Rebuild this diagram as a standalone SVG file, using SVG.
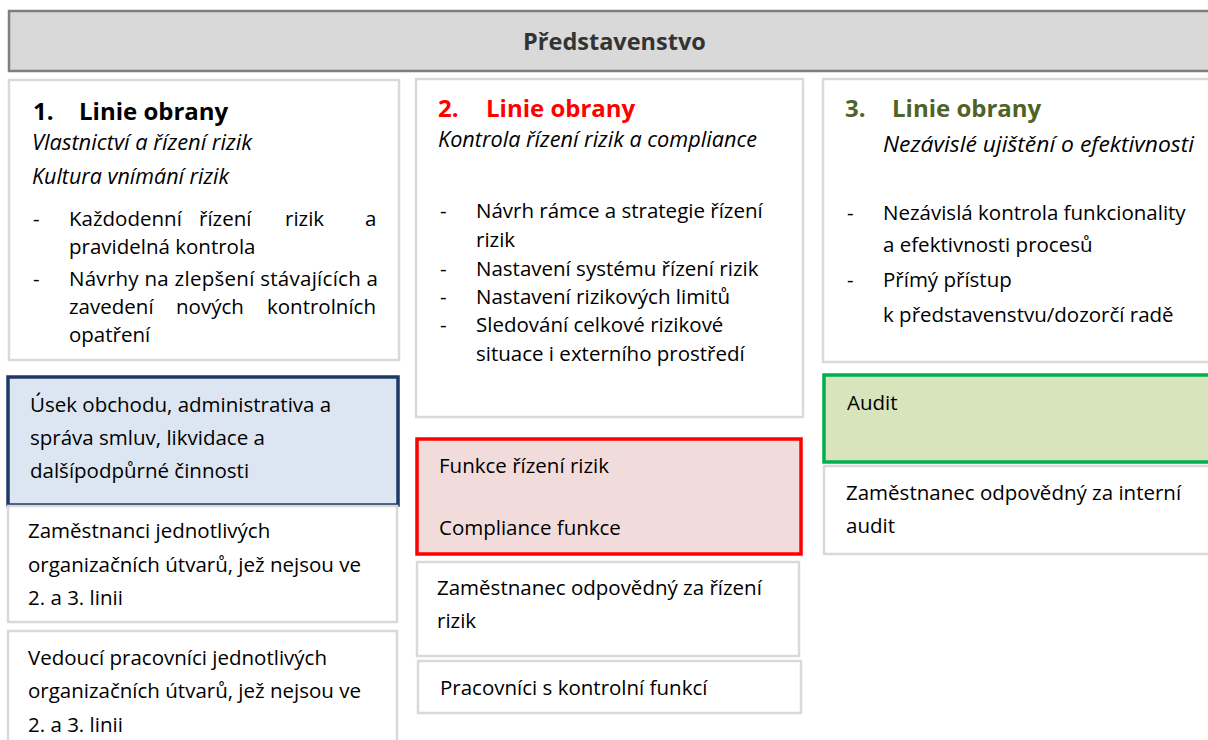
<svg xmlns="http://www.w3.org/2000/svg" width="1208" height="740" viewBox="0 0 1208 740">
<style>
text{font-family:"Open Sans","Liberation Sans",sans-serif;fill:#000}
.body{font-size:20.5px}
.it{font-size:21.5px;font-style:italic}
.ttl{font-size:24px;font-weight:bold}
.hdr{font-size:23.5px;font-weight:bold;fill:#333}
.plain{fill:#fff;stroke:#d9d9d9;stroke-width:2.5}
.blue{fill:#dce6f2;stroke:#1f3864;stroke-width:3.5}
.red{fill:#f2dcdb;stroke:#ff0000;stroke-width:3.5}
.green{fill:#d8e4bc;stroke:#00b050;stroke-width:3.5}
</style>
<rect width="1208" height="740" fill="#fff"/>
<g id="predstavenstvo">
<rect x="9" y="11" width="1210" height="60" fill="#d9d9d9" stroke="#7f7f7f" stroke-width="2.5"/>
<text class="hdr" x="614.5" y="50" text-anchor="middle">Představenstvo</text>
</g>
<g id="linie1">
<rect class="plain" x="9" y="80" width="390" height="280"/>
<text class="ttl" x="33" y="120">1.</text>
<text class="ttl" x="79" y="120">Linie obrany</text>
<text class="it" x="32" y="150" textLength="220" lengthAdjust="spacingAndGlyphs">Vlastnictví a řízení rizik</text>
<text class="it" x="32" y="184" textLength="197" lengthAdjust="spacingAndGlyphs">Kultura vnímání rizik</text>
<text class="body" x="33" y="226">-</text>
<text class="body" x="69" y="226">Každodenní</text>
<text class="body" x="199" y="226">řízení</text>
<text class="body" x="285" y="226">rizik</text>
<text class="body" x="365" y="226">a</text>
<text class="body" x="69" y="254">pravidelná kontrola</text>
<text class="body" x="33" y="286">-</text>
<text class="body" x="69" y="286" textLength="309" lengthAdjust="spacing">Návrhy na zlepšení stávajících a</text>
<text class="body" x="69" y="314">zavedení</text>
<text class="body" x="176" y="314">nových</text>
<text class="body" x="267" y="314">kontrolních</text>
<text class="body" x="69" y="342">opatření</text>
</g>
<g id="linie2">
<rect class="plain" x="416" y="79" width="387" height="338"/>
<text class="ttl" x="438" y="117" style="fill:#ff0000">2.</text>
<text class="ttl" x="486" y="117" style="fill:#ff0000">Linie obrany</text>
<text class="it" x="438" y="147" textLength="319" lengthAdjust="spacingAndGlyphs">Kontrola řízení rizik a compliance</text>
<text class="body" x="440" y="218">-</text>
<text class="body" x="476" y="218">Návrh rámce a strategie řízení</text>
<text class="body" x="476" y="247">rizik</text>
<text class="body" x="440" y="276">-</text>
<text class="body" x="476" y="276">Nastavení systému řízení rizik</text>
<text class="body" x="440" y="304">-</text>
<text class="body" x="476" y="304">Nastavení rizikových limitů</text>
<text class="body" x="440" y="332">-</text>
<text class="body" x="476" y="332">Sledování celkové rizikové</text>
<text class="body" x="476" y="361">situace i externího prostředí</text>
</g>
<g id="linie3">
<rect class="plain" x="823" y="79" width="392" height="283"/>
<text class="ttl" x="845" y="117" style="fill:#4f6228">3.</text>
<text class="ttl" x="892" y="117" style="fill:#4f6228">Linie obrany</text>
<text class="it" x="883" y="152" textLength="311" lengthAdjust="spacingAndGlyphs">Nezávislé ujištění o efektivnosti</text>
<text class="body" x="847" y="220">-</text>
<text class="body" x="883" y="220">Nezávislá kontrola funkcionality</text>
<text class="body" x="883" y="252">a efektivnosti procesů</text>
<text class="body" x="847" y="287">-</text>
<text class="body" x="883" y="287">Přímý přístup</text>
<text class="body" x="883" y="322">k představenstvu/dozorčí radě</text>
</g>
<g id="usek-obchodu">
<rect class="blue" x="8" y="377" width="390" height="128"/>
<text class="body" x="30" y="412">Úsek obchodu, administrativa a</text>
<text class="body" x="30" y="445">správa smluv, likvidace a</text>
<text class="body" x="30" y="478">dalšípodpůrné činnosti</text>
</g>
<g id="zamestnanci">
<rect class="plain" x="8" y="506" width="389" height="116"/>
<text class="body" x="28" y="538">Zaměstnanci jednotlivých</text>
<text class="body" x="28" y="572">organizačních útvarů, jež nejsou ve</text>
<text class="body" x="28" y="605">2. a 3. linii</text>
</g>
<g id="vedouci">
<rect class="plain" x="8" y="631" width="389" height="120"/>
<text class="body" x="28" y="665">Vedoucí pracovníci jednotlivých</text>
<text class="body" x="28" y="698">organizačních útvarů, jež nejsou ve</text>
<text class="body" x="28" y="732">2. a 3. linii</text>
</g>
<g id="funkce-rizeni">
<rect class="red" x="417" y="439" width="384" height="115"/>
<text class="body" x="439" y="473">Funkce řízení rizik</text>
<text class="body" x="439" y="535">Compliance funkce</text>
</g>
<g id="zamestnanec-rizeni">
<rect class="plain" x="417" y="562" width="382" height="94"/>
<text class="body" x="437" y="595">Zaměstnanec odpovědný za řízení</text>
<text class="body" x="437" y="628">rizik</text>
</g>
<g id="pracovnici">
<rect class="plain" x="418" y="661" width="383" height="52"/>
<text class="body" x="440" y="695">Pracovníci s kontrolní funkcí</text>
</g>
<g id="audit">
<rect class="green" x="824" y="375" width="392" height="87"/>
<text class="body" x="847" y="410">Audit</text>
</g>
<g id="zamestnanec-audit">
<rect class="plain" x="824" y="466" width="392" height="88"/>
<text class="body" x="846" y="500">Zaměstnanec odpovědný za interní</text>
<text class="body" x="846" y="533">audit</text>
</g>
<g id="connectors"/>
</svg>
